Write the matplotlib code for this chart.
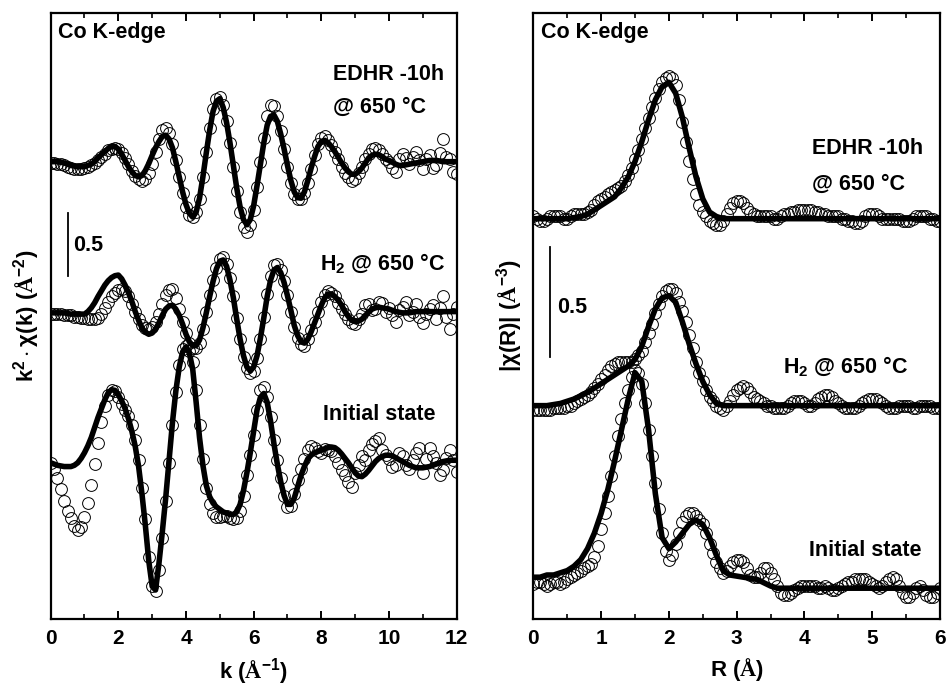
import numpy as np
import matplotlib
matplotlib.use("Agg")
import matplotlib.pyplot as plt

plt.rcParams['font.family'] = ['Liberation Sans', 'DejaVu Sans']
plt.rcParams['font.weight'] = 'bold'
plt.rcParams['mathtext.fontset'] = 'custom'
plt.rcParams['mathtext.rm'] = 'Liberation Serif'
plt.rcParams['mathtext.bf'] = 'Liberation Sans:bold'
plt.rcParams['mathtext.it'] = 'Liberation Sans:italic:bold'
plt.rcParams['mathtext.sf'] = 'Liberation Sans:bold'

# ---- k space (left), step 0.1 ----
k = np.linspace(0, 12, 121)

edhr_fit_k = [0.00, 0.00, 0.00, -0.005, -0.01, -0.02, -0.03, -0.035, -0.04, -0.04,
              -0.04, -0.03, -0.02, 0.00, 0.03, 0.055, 0.08, 0.105, 0.12, 0.12,
              0.10, 0.06, 0.01, -0.04, -0.08, -0.11, -0.12, -0.11, -0.07, -0.015,
              0.05, 0.11, 0.16, 0.20, 0.21, 0.18, 0.11, 0.00, -0.12, -0.24,
              -0.34, -0.41, -0.44, -0.40, -0.29, -0.12, 0.07, 0.25, 0.40, 0.48,
              0.50, 0.43, 0.31, 0.15, -0.03, -0.21, -0.36, -0.46, -0.50, -0.46,
              -0.35, -0.19, -0.02, 0.15, 0.29, 0.36, 0.37, 0.32, 0.22, 0.10,
              -0.03, -0.15, -0.24, -0.285, -0.29, -0.24, -0.15, -0.05, 0.04, 0.12,
              0.16, 0.17, 0.15, 0.12, 0.08, 0.035, -0.01, -0.05, -0.08, -0.10,
              -0.10, -0.08, -0.05, -0.01, 0.03, 0.05, 0.06, 0.055, 0.04, 0.02,
              0.01, -0.005, -0.02, -0.03, -0.03, -0.025, -0.02, -0.015, -0.01, -0.005,
              0.00, 0.005, 0.01, 0.01, 0.01, 0.005, 0.00, 0.00, 0.00, 0.00,
              0.00]
h2_fit_k = [-0.01, -0.01, -0.01, -0.01, -0.01, -0.015, -0.02, -0.02, -0.02, -0.02,
            -0.02, 0.00, 0.03, 0.07, 0.12, 0.165, 0.21, 0.245, 0.27, 0.285,
            0.29, 0.26, 0.21, 0.15, 0.08, 0.00, -0.07, -0.13, -0.165, -0.18,
            -0.17, -0.14, -0.09, -0.03, 0.02, 0.045, 0.05, 0.02, -0.03, -0.10,
            -0.18, -0.24, -0.27, -0.27, -0.225, -0.13, -0.01, 0.12, 0.24, 0.34,
            0.40, 0.41, 0.36, 0.25, 0.11, -0.06, -0.22, -0.35, -0.44, -0.47,
            -0.44, -0.35, -0.21, -0.05, 0.12, 0.25, 0.33, 0.35, 0.31, 0.23,
            0.125, 0.01, -0.11, -0.19, -0.24, -0.25, -0.22, -0.16, -0.09, -0.02,
            0.05, 0.11, 0.14, 0.14, 0.12, 0.09, 0.05, 0.00, -0.04, -0.07,
            -0.08, -0.075, -0.06, -0.03, -0.005, 0.02, 0.03, 0.035, 0.03, 0.025,
            0.02, 0.01, 0.00, -0.005, -0.01, -0.01, -0.01, -0.005, 0.00, 0.00,
            0.00, 0.00, 0.00, 0.00, 0.00, 0.00, 0.00, 0.00, 0.00, 0.00,
            0.00]
init_fit_k = [0.00, -0.01, -0.02, -0.025, -0.03, -0.03, -0.03, -0.02, 0.00, 0.035,
              0.08, 0.135, 0.20, 0.28, 0.36, 0.43, 0.50, 0.555, 0.58, 0.575,
              0.54, 0.49, 0.43, 0.35, 0.25, 0.13, -0.03, -0.25, -0.50, -0.78,
              -0.98, -1.01, -0.80, -0.55, -0.28, 0.02, 0.32, 0.57, 0.76, 0.88,
              0.92, 0.87, 0.74, 0.48, 0.20, -0.02, -0.18, -0.27, -0.32, -0.35,
              -0.37, -0.39, -0.40, -0.41, -0.41, -0.39, -0.33, -0.22, -0.08, 0.08,
              0.25, 0.42, 0.52, 0.55, 0.48, 0.33, 0.15, -0.01, -0.15, -0.26,
              -0.33, -0.33, -0.28, -0.19, -0.10, -0.03, 0.03, 0.06, 0.08, 0.09,
              0.10, 0.11, 0.12, 0.125, 0.12, 0.10, 0.07, 0.035, 0.00, -0.04,
              -0.08, -0.105, -0.11, -0.09, -0.06, -0.025, 0.01, 0.035, 0.05, 0.06,
              0.06, 0.055, 0.04, 0.025, 0.01, -0.005, -0.02, -0.03, -0.04, -0.04,
              -0.04, -0.035, -0.03, -0.02, -0.01, 0.00, 0.01, 0.015, 0.02, 0.02,
              0.02]

edhr_data_k = [-0.01, -0.01, -0.02, -0.02, -0.03, -0.04, -0.05, -0.06, -0.06, -0.06,
               -0.05, -0.04, -0.03, -0.01, 0.01, 0.04, 0.06, 0.09, 0.10, 0.11,
               0.10, 0.07, 0.03, -0.02, -0.07, -0.11, -0.14, -0.15, -0.14, -0.09,
               -0.02, 0.08, 0.18, 0.25, 0.27, 0.23, 0.14, 0.01, -0.12, -0.25,
               -0.36, -0.42, -0.44, -0.40, -0.30, -0.12, 0.08, 0.27, 0.42, 0.50,
               0.51, 0.45, 0.32, 0.15, -0.04, -0.23, -0.40, -0.52, -0.56, -0.50,
               -0.38, -0.20, 0.00, 0.19, 0.36, 0.45, 0.44, 0.36, 0.24, 0.10,
               -0.04, -0.17, -0.26, -0.30, -0.30, -0.25, -0.17, -0.06, 0.05, 0.14,
               0.19, 0.20, 0.17, 0.13, 0.08, 0.02, -0.04, -0.09, -0.12, -0.15,
               -0.14, -0.09, -0.04, 0.02, 0.06, 0.10, 0.11, 0.09, 0.06, 0.02,
               0.00, -0.05, -0.08, 0.02, 0.06, 0.03, -0.02, 0.04, 0.08, 0.01,
               -0.06, 0.02, 0.05, -0.05, -0.03, 0.07, 0.18, 0.04, 0.02, -0.08,
               -0.10]
h2_data_k = [-0.02, -0.02, -0.02, -0.02, -0.03, -0.03, -0.03, -0.04, -0.04, -0.05,
             -0.05, -0.06, -0.06, -0.06, -0.05, -0.02, 0.03, 0.08, 0.12, 0.15,
             0.17, 0.18, 0.16, 0.12, 0.06, 0.00, -0.06, -0.11, -0.13, -0.14,
             -0.12, -0.08, -0.02, 0.06, 0.13, 0.17, 0.18, 0.11, 0.02, -0.08,
             -0.17, -0.25, -0.29, -0.29, -0.25, -0.14, 0.00, 0.13, 0.25, 0.35,
             0.42, 0.43, 0.38, 0.27, 0.12, -0.05, -0.22, -0.36, -0.45, -0.49,
             -0.47, -0.37, -0.22, -0.04, 0.14, 0.28, 0.37, 0.38, 0.33, 0.24,
             0.13, 0.00, -0.12, -0.21, -0.26, -0.27, -0.22, -0.15, -0.08, 0.00,
             0.08, 0.13, 0.16, 0.15, 0.12, 0.07, 0.02, -0.02, -0.06, -0.09,
             -0.10, -0.06, -0.02, 0.05, 0.06, 0.01, 0.02, 0.08, 0.07, 0.00,
             0.03, -0.03, -0.08, 0.01, 0.04, 0.08, -0.03, 0.00, 0.06, -0.04,
             -0.09, -0.02, 0.02, 0.05, -0.06, 0.03, 0.12, -0.04, -0.14, -0.02,
             0.04]
init_data_k = [0.00, -0.05, -0.12, -0.21, -0.30, -0.38, -0.44, -0.50, -0.53, -0.51,
               -0.43, -0.32, -0.18, -0.01, 0.16, 0.32, 0.45, 0.54, 0.58, 0.57,
               0.52, 0.47, 0.42, 0.37, 0.30, 0.18, 0.02, -0.20, -0.45, -0.75,
               -0.98, -1.02, -0.85, -0.60, -0.30, 0.00, 0.30, 0.56, 0.78, 0.90,
               0.93, 0.89, 0.80, 0.58, 0.30, 0.03, -0.20, -0.33, -0.40, -0.43,
               -0.43, -0.42, -0.42, -0.44, -0.45, -0.44, -0.38, -0.26, -0.10, 0.06,
               0.22, 0.42, 0.58, 0.60, 0.52, 0.36, 0.18, 0.02, -0.12, -0.26,
               -0.35, -0.34, -0.25, -0.14, -0.05, 0.03, 0.10, 0.13, 0.12, 0.09,
               0.08, 0.11, 0.10, 0.09, 0.05, 0.00, -0.06, -0.10, -0.15, -0.19,
               -0.08, -0.02, 0.05, 0.02, 0.10, 0.15, 0.17, 0.20, 0.10, 0.06,
               0.03, -0.03, -0.02, 0.08, 0.05, -0.02, -0.05, 0.02, 0.08, 0.12,
               -0.08, 0.03, 0.12, 0.05, 0.00, -0.10, -0.06, 0.04, 0.10, 0.02,
               -0.07]

# ---- R space (right) ----
r_fit = np.linspace(0, 6, 61)      # step 0.1
r_data = np.linspace(0, 6, 121)    # step 0.05

edhr_fit_r = [0.00, 0.00, 0.00, 0.00, 0.00, 0.00, 0.005, 0.01, 0.02, 0.04,
              0.06, 0.08, 0.10, 0.14, 0.19, 0.26, 0.35, 0.45, 0.54, 0.60,
              0.62, 0.57, 0.46, 0.32, 0.19, 0.09, 0.03, 0.01, 0.00, 0.00,
              0.00, 0.00, 0.00, 0.00, 0.00, 0.00, 0.00, 0.00, 0.00, 0.00,
              0.00, 0.00, 0.00, 0.00, 0.00, 0.00, 0.00, 0.00, 0.00, 0.00,
              0.00, 0.00, 0.00, 0.00, 0.00, 0.00, 0.00, 0.00, 0.00, 0.00,
              0.00]
h2_fit_r = [0.00, 0.00, 0.00, 0.005, 0.01, 0.02, 0.03, 0.045, 0.06, 0.08,
            0.10, 0.12, 0.14, 0.16, 0.18, 0.21, 0.27, 0.36, 0.44, 0.49,
            0.50, 0.47, 0.38, 0.28, 0.19, 0.11, 0.05, 0.01, 0.00, 0.00,
            0.00, 0.00, 0.00, 0.00, 0.00, 0.00, 0.00, 0.00, 0.00, 0.00,
            0.00, 0.00, 0.00, 0.00, 0.00, 0.00, 0.00, 0.00, 0.00, 0.00,
            0.00, 0.00, 0.00, 0.00, 0.00, 0.00, 0.00, 0.00, 0.00, 0.00,
            0.00]
init_fit_r = [0.05, 0.05, 0.06, 0.06, 0.07, 0.08, 0.10, 0.13, 0.18, 0.25,
              0.34, 0.45, 0.58, 0.72, 0.86, 0.98, 0.94, 0.72, 0.43, 0.23,
              0.18, 0.21, 0.25, 0.29, 0.31, 0.29, 0.23, 0.15, 0.08, 0.06,
              0.055, 0.05, 0.045, 0.04, 0.025, 0.01, 0.00, 0.00, 0.00, 0.00,
              0.00, 0.00, 0.00, 0.00, 0.00, 0.00, 0.00, 0.00, 0.00, 0.00,
              0.00, 0.00, 0.00, 0.00, 0.00, 0.00, 0.00, 0.00, 0.00, 0.00,
              0.00]

edhr_data_r = [0.01, 0.00, -0.01, -0.01, 0.00, 0.01, 0.01, 0.01, 0.01, 0.00,
               0.00, 0.01, 0.02, 0.02, 0.02, 0.02, 0.03, 0.04, 0.06, 0.08,
               0.09, 0.10, 0.11, 0.12, 0.13, 0.14, 0.15, 0.17, 0.20, 0.23,
               0.27, 0.31, 0.36, 0.41, 0.46, 0.51, 0.55, 0.59, 0.62, 0.64,
               0.65, 0.64, 0.61, 0.54, 0.44, 0.35, 0.26, 0.18, 0.11, 0.06,
               0.03, 0.01, -0.01, -0.02, -0.03, -0.03, -0.01, 0.02, 0.05, 0.07,
               0.08, 0.08, 0.07, 0.05, 0.03, 0.02, 0.01, 0.01, 0.01, 0.01,
               0.01, 0.00, 0.00, 0.01, 0.02, 0.02, 0.03, 0.03, 0.04, 0.04,
               0.04, 0.04, 0.04, 0.03, 0.03, 0.02, 0.02, 0.01, 0.01, 0.01,
               0.01, 0.00, 0.00, -0.01, -0.01, -0.02, -0.02, -0.01, 0.01, 0.02,
               0.02, 0.02, 0.01, 0.00, 0.00, 0.00, 0.00, 0.00, 0.00, -0.01,
               -0.01, -0.01, 0.00, 0.01, 0.01, 0.01, 0.01, 0.00, 0.00, -0.01,
               -0.01]
h2_data_r = [-0.02, -0.02, -0.02, -0.02, -0.02, -0.02, -0.01, -0.01, -0.01, -0.01,
             0.00, 0.00, 0.01, 0.02, 0.03, 0.04, 0.05, 0.06, 0.08, 0.10,
             0.12, 0.14, 0.16, 0.18, 0.19, 0.20, 0.20, 0.20, 0.20, 0.20,
             0.21, 0.23, 0.25, 0.29, 0.33, 0.37, 0.42, 0.46, 0.50, 0.52,
             0.53, 0.53, 0.51, 0.47, 0.43, 0.38, 0.32, 0.26, 0.20, 0.15,
             0.11, 0.07, 0.04, 0.02, 0.00, -0.01, -0.02, 0.00, 0.02, 0.05,
             0.07, 0.08, 0.09, 0.08, 0.06, 0.04, 0.03, 0.02, 0.01, 0.00,
             0.00, -0.01, -0.01, -0.01, -0.01, 0.00, 0.01, 0.02, 0.02, 0.02,
             0.01, 0.00, 0.00, 0.01, 0.03, 0.04, 0.05, 0.05, 0.04, 0.02,
             0.01, 0.00, -0.01, -0.01, -0.01, -0.01, 0.00, 0.01, 0.02, 0.03,
             0.03, 0.03, 0.02, 0.01, 0.00, -0.01, -0.01, -0.01, 0.00, 0.00,
             0.00, 0.00, -0.01, -0.01, 0.00, 0.00, 0.00, 0.00, -0.01, -0.01,
             -0.01]
init_data_r = [0.02, 0.03, 0.03, 0.02, 0.01, 0.02, 0.03, 0.03, 0.02, 0.03,
               0.04, 0.05, 0.06, 0.07, 0.08, 0.09, 0.10, 0.11, 0.14, 0.19,
               0.27, 0.34, 0.42, 0.51, 0.60, 0.69, 0.77, 0.84, 0.90, 0.96,
               0.99, 0.98, 0.93, 0.84, 0.72, 0.60, 0.48, 0.36, 0.25, 0.17,
               0.13, 0.15, 0.20, 0.25, 0.30, 0.33, 0.34, 0.34, 0.33, 0.31,
               0.29, 0.25, 0.20, 0.16, 0.12, 0.09, 0.07, 0.08, 0.10, 0.12,
               0.13, 0.13, 0.12, 0.09, 0.06, 0.05, 0.05, 0.07, 0.09, 0.09,
               0.07, 0.04, 0.01, -0.02, -0.03, -0.03, -0.02, -0.01, 0.00, 0.01,
               0.01, 0.01, 0.01, 0.01, 0.00, 0.00, 0.01, 0.00, -0.01, -0.01,
               0.00, 0.01, 0.02, 0.03, 0.03, 0.04, 0.04, 0.04, 0.04, 0.03,
               0.02, 0.01, 0.00, 0.01, 0.03, 0.04, 0.05, 0.04, 0.01, -0.02,
               -0.04, -0.04, -0.02, 0.00, 0.01, -0.01, -0.03, -0.04, -0.04, -0.02,
               0.00]

# vertical offsets of the stacked curves
k_offsets = [3.63, 2.44, 1.24]
r_offsets = [1.82, 0.97, 0.14]

fig = plt.figure(figsize=(9.47, 6.89), dpi=100)
ax1 = fig.add_axes([0.0535, 0.1016, 0.4287, 0.8795])
ax2 = fig.add_axes([0.5632, 0.1016, 0.4294, 0.8795])


def draw(ax, xd, xf, datas, fits, offsets):
    for d, f, off in zip(datas, fits, offsets):
        ax.plot(xd, np.array(d) + off, 'o', ms=8.5, mfc='none', mec='black', mew=0.7, zorder=2)
        ax.plot(xf, np.array(f) + off, '-', color='black', lw=4, solid_joinstyle='round',
                solid_capstyle='butt', zorder=3)


draw(ax1, k, k, [edhr_data_k, h2_data_k, init_data_k],
     [edhr_fit_k, h2_fit_k, init_fit_k], k_offsets)
draw(ax2, r_data, r_fit, [edhr_data_r, h2_data_r, init_data_r],
     [edhr_fit_r, h2_fit_r, init_fit_r], r_offsets)

ax1.set_xlim(0, 12)
ax1.set_ylim(0, 4.81)
ax2.set_xlim(0, 6)
ax2.set_ylim(0, 2.755)

ax1.set_xticks(np.arange(0, 13, 2))
ax1.set_xticks(np.arange(0, 13, 1), minor=True)
ax2.set_xticks(np.arange(0, 7, 1))
ax2.set_xticks(np.arange(0, 6.5, 0.5), minor=True)

for ax in (ax1, ax2):
    ax.set_yticks([])
    for s in ax.spines.values():
        s.set_linewidth(1.6)
    ax.tick_params(axis='x', which='major', direction='in', top=True, length=6, width=1.4,
                   labelsize=15, pad=7)
    ax.tick_params(axis='x', which='minor', direction='in', top=True, length=3.5, width=1.2)
    for lab in ax.get_xticklabels():
        lab.set_fontweight('bold')

ax1.set_xlabel(r'k ($\mathrm{\AA}^{\mathbf{-1}}$)', fontsize=16, fontweight='bold', labelpad=6)
ax2.set_xlabel(r'R ($\mathrm{\AA}$)', fontsize=16, fontweight='bold', labelpad=6)
ax1.set_ylabel(r'$\mathbf{k^2\cdot\chi(k)}$ ($\mathrm{\AA}^{\mathbf{-2}}$)', fontsize=16,
               fontweight='bold', labelpad=6)
ax2.set_ylabel(r'$\mathbf{|\chi(R)|}$ ($\mathrm{\AA}^{\mathbf{-3}}$)', fontsize=16,
               fontweight='bold', labelpad=6)

fs = 15.5
# left panel labels
ax1.text(0.22, 4.61, 'Co K-edge', fontsize=fs, fontweight='bold')
ax1.text(8.35, 4.28, 'EDHR -10h', fontsize=fs, fontweight='bold')
ax1.text(8.35, 4.016, '@ 650 °C', fontsize=fs, fontweight='bold')
ax1.text(7.96, 2.764, r'H$_\mathbf{2}$ @ 650 °C', fontsize=fs, fontweight='bold')
ax1.text(8.05, 1.579, 'Initial state', fontsize=fs, fontweight='bold')
ax1.plot([0.51, 0.51], [2.72, 3.22], color='black', lw=1.3)
ax1.text(0.66, 2.92, '0.5', fontsize=fs, fontweight='bold')

# right panel labels
ax2.text(0.12, 2.64, 'Co K-edge', fontsize=fs, fontweight='bold')
ax2.text(4.11, 2.114, 'EDHR -10h', fontsize=fs, fontweight='bold')
ax2.text(4.11, 1.95, '@ 650 °C', fontsize=fs, fontweight='bold')
ax2.text(3.69, 1.118, r'H$_\mathbf{2}$ @ 650 °C', fontsize=fs, fontweight='bold')
ax2.text(4.06, 0.286, 'Initial state', fontsize=fs, fontweight='bold')
ax2.plot([0.25, 0.25], [1.19, 1.69], color='black', lw=1.3)
ax2.text(0.35, 1.392, '0.5', fontsize=fs, fontweight='bold')

fig.savefig('out.png', dpi=100)
